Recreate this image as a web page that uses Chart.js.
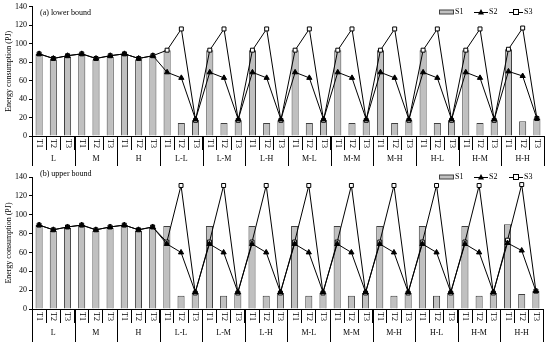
<!DOCTYPE html>
<html>
<head>
<meta charset="utf-8">
<script src="https://cdn.jsdelivr.net/npm/chart.js@4"></script>
<style>
  body { margin: 0; background: #fff; }
  canvas { display: block; position: absolute; left: 0; }
</style>
</head>
<body>
<canvas id="lower" width="550" height="170" style="top:0"></canvas>
<canvas id="upper" width="550" height="174" style="top:168px"></canvas>
<script>
const groups = ['L', 'M', 'H', 'L-L', 'L-M', 'L-H', 'M-L', 'M-M', 'M-H', 'H-L', 'H-M', 'H-H'];
const periods = ['T1', 'T2', 'T3'];
const yTicks = [0, 20, 40, 60, 80, 100, 120, 140];

// (a) lower bound
const s1Lower = [89, 83, 86, 89, 83, 86, 89, 83, 86, 93, 14, 17, 93, 14, 17, 93, 14, 17,
                 93, 14, 17, 93, 14, 17, 93, 14, 17, 93, 14, 17, 93, 14, 17, 94, 16, 19];
const s2Lower = [89, 84, 87, 89, 84, 87, 89, 84, 87, 69, 63, 18, 69, 63, 18, 69, 63, 18,
                 69, 63, 18, 69, 63, 18, 69, 63, 18, 69, 63, 18, 69, 63, 18, 70, 65, 19];
const s3Lower = [89, 84, 87, 89, 84, 87, 89, 84, 87, 93, 116, 17, 93, 116, 17, 93, 116, 17,
                 93, 116, 17, 93, 116, 17, 93, 116, 17, 93, 116, 17, 93, 116, 17, 94, 117, 19];

// (b) upper bound
const s1Upper = [89, 83, 86, 89, 83, 86, 89, 83, 86, 88, 14, 17, 88, 14, 17, 88, 14, 17,
                 88, 14, 17, 88, 14, 17, 88, 14, 17, 88, 14, 17, 88, 14, 17, 90, 16, 19];
const s2Upper = [89, 84, 87, 89, 84, 87, 89, 84, 87, 69, 60, 18, 69, 60, 18, 69, 60, 18,
                 69, 60, 18, 69, 60, 18, 69, 60, 18, 69, 60, 18, 69, 60, 18, 70, 62, 19];
const s3Upper = [89, 84, 87, 89, 84, 87, 89, 84, 87, 71, 131, 17, 71, 131, 17, 71, 131, 17,
                 71, 131, 17, 71, 131, 17, 71, 131, 17, 71, 131, 17, 71, 131, 17, 73, 132, 19];

const labels = [];
groups.forEach(g => periods.forEach(p => labels.push(p)));

const FONT = "'Liberation Serif', 'DejaVu Serif', serif";
const BAR_FILL = '#c0c0c0';
const BAR_EDGE = '#404040';

// draws panel title, legend and the two-level x axis labels
const decorPlugin = {
    id: 'decor',
    afterDraw(chart, args, opts) {
        const ctx = chart.ctx;
        const x = chart.scales.x;
        const bottom = chart.chartArea.bottom;
        const half = (x.getPixelForValue(1) - x.getPixelForValue(0)) / 2;
        ctx.save();
        ctx.fillStyle = '#000';
        ctx.strokeStyle = '#000';
        ctx.lineWidth = 1;
        ctx.font = '8px ' + FONT;

        // period labels, rotated clockwise
        labels.forEach((lab, i) => {
            ctx.save();
            ctx.translate(Math.round(x.getPixelForValue(i)), bottom + 3);
            ctx.rotate(Math.PI / 2);
            ctx.textAlign = 'left';
            ctx.textBaseline = 'middle';
            ctx.fillText(lab, 0, 0);
            ctx.restore();
        });

        // group separators
        for (let g = 0; g <= groups.length; g++) {
            const px = g < groups.length ? x.getPixelForValue(g * 3) - half : x.getPixelForValue(g * 3 - 1) + half;
            ctx.beginPath();
            ctx.moveTo(Math.round(px) + 0.5, bottom);
            ctx.lineTo(Math.round(px) + 0.5, bottom + opts.sepLen);
            ctx.stroke();
        }

        // group labels
        ctx.textAlign = 'center';
        ctx.textBaseline = 'middle';
        groups.forEach((g, i) => {
            ctx.fillText(g, x.getPixelForValue(i * 3 + 1), bottom + opts.groupY);
        });

        // panel title
        ctx.textAlign = 'left';
        ctx.fillText(opts.title, 40, opts.titleY);

        // legend
        const ly = opts.legendY;
        ctx.fillStyle = BAR_FILL;
        ctx.fillRect(439.5, ly - 2, 14, 4);
        ctx.strokeStyle = BAR_EDGE;
        ctx.strokeRect(439.5, ly - 2, 14, 4);
        ctx.fillStyle = '#000';
        ctx.strokeStyle = '#000';
        ctx.fillText('S1', 455, ly);

        ctx.beginPath();
        ctx.moveTo(474, ly + 0.5);
        ctx.lineTo(488, ly + 0.5);
        ctx.stroke();
        ctx.beginPath();
        ctx.moveTo(481, ly - 3);
        ctx.lineTo(484, ly + 2.5);
        ctx.lineTo(478, ly + 2.5);
        ctx.closePath();
        ctx.fill();
        ctx.fillText('S2', 489, ly);

        ctx.beginPath();
        ctx.moveTo(509, ly + 0.5);
        ctx.lineTo(523, ly + 0.5);
        ctx.stroke();
        ctx.fillStyle = '#fff';
        ctx.fillRect(513.5, ly - 2.5, 5, 5);
        ctx.strokeRect(513.5, ly - 2.5, 5, 5);
        ctx.fillStyle = '#000';
        ctx.fillText('S3', 524, ly);
        ctx.restore();
    }
};

function makeChart(id, s1, s2, s3, pad, axisH, decor) {
    return new Chart(document.getElementById(id), {
        type: 'bar',
        data: {
            labels: labels,
            datasets: [{
                type: 'line',
                label: 'S2',
                data: s2,
                borderColor: '#000',
                borderWidth: 1,
                pointStyle: 'triangle',
                pointRadius: 3,
                pointBackgroundColor: '#000',
                pointBorderColor: '#000',
                pointBorderWidth: 1,
                tension: 0,
                order: 1,
            }, {
                type: 'line',
                label: 'S3',
                data: s3,
                borderColor: '#000',
                borderWidth: 1,
                pointStyle: 'rect',
                pointRadius: 2.8,
                pointBackgroundColor: '#fff',
                pointBorderColor: '#000',
                pointBorderWidth: 1,
                tension: 0,
                order: 2,
            }, {
                label: 'S1',
                data: s1,
                backgroundColor: BAR_FILL,
                borderColor: BAR_EDGE,
                borderWidth: 1,
                barPercentage: 0.5,
                categoryPercentage: 1,
                order: 3,
            }]
        },
        options: {
            responsive: false,
            animation: false,
            layout: { padding: pad },
            scales: {
                x: {
                    offset: true,
                    afterFit: s => { s.height = axisH; },
                    grid: {
                        offset: true,
                        drawOnChartArea: false,
                        tickLength: 14,
                        color: '#000',
                    },
                    border: { color: '#000', width: 1 },
                    ticks: { display: false },
                },
                y: {
                    min: 0,
                    max: 140,
                    afterFit: s => { s.width = 32; },
                    afterBuildTicks: s => { s.ticks = yTicks.map(v => ({ value: v })); },
                    grid: {
                        drawOnChartArea: false,
                        tickLength: 3,
                        color: '#000',
                    },
                    border: { color: '#000', width: 1 },
                    ticks: {
                        color: '#000',
                        padding: 2,
                        font: { family: FONT, size: 8 },
                    },
                    title: {
                        display: true,
                        text: 'Energy consumption (PJ)',
                        color: '#000',
                        padding: { top: 4, bottom: 0 },
                        font: { family: FONT, size: 8 },
                    },
                },
            },
            plugins: {
                legend: { display: false },
                tooltip: { enabled: false },
                decor: decor,
            },
        },
        plugins: [decorPlugin],
    });
}

makeChart('lower', s1Lower, s2Lower, s3Lower, { top: 6, right: 6, left: 0, bottom: 0 }, 34,
    { title: '(a) lower bound', titleY: 13, legendY: 12, sepLen: 30, groupY: 23 });
makeChart('upper', s1Upper, s2Upper, s3Upper, { top: 9, right: 7, left: 0, bottom: 0 }, 33,
    { title: '(b) upper bound', titleY: 6, legendY: 9, sepLen: 33, groupY: 24 });
</script>
</body>
</html>
